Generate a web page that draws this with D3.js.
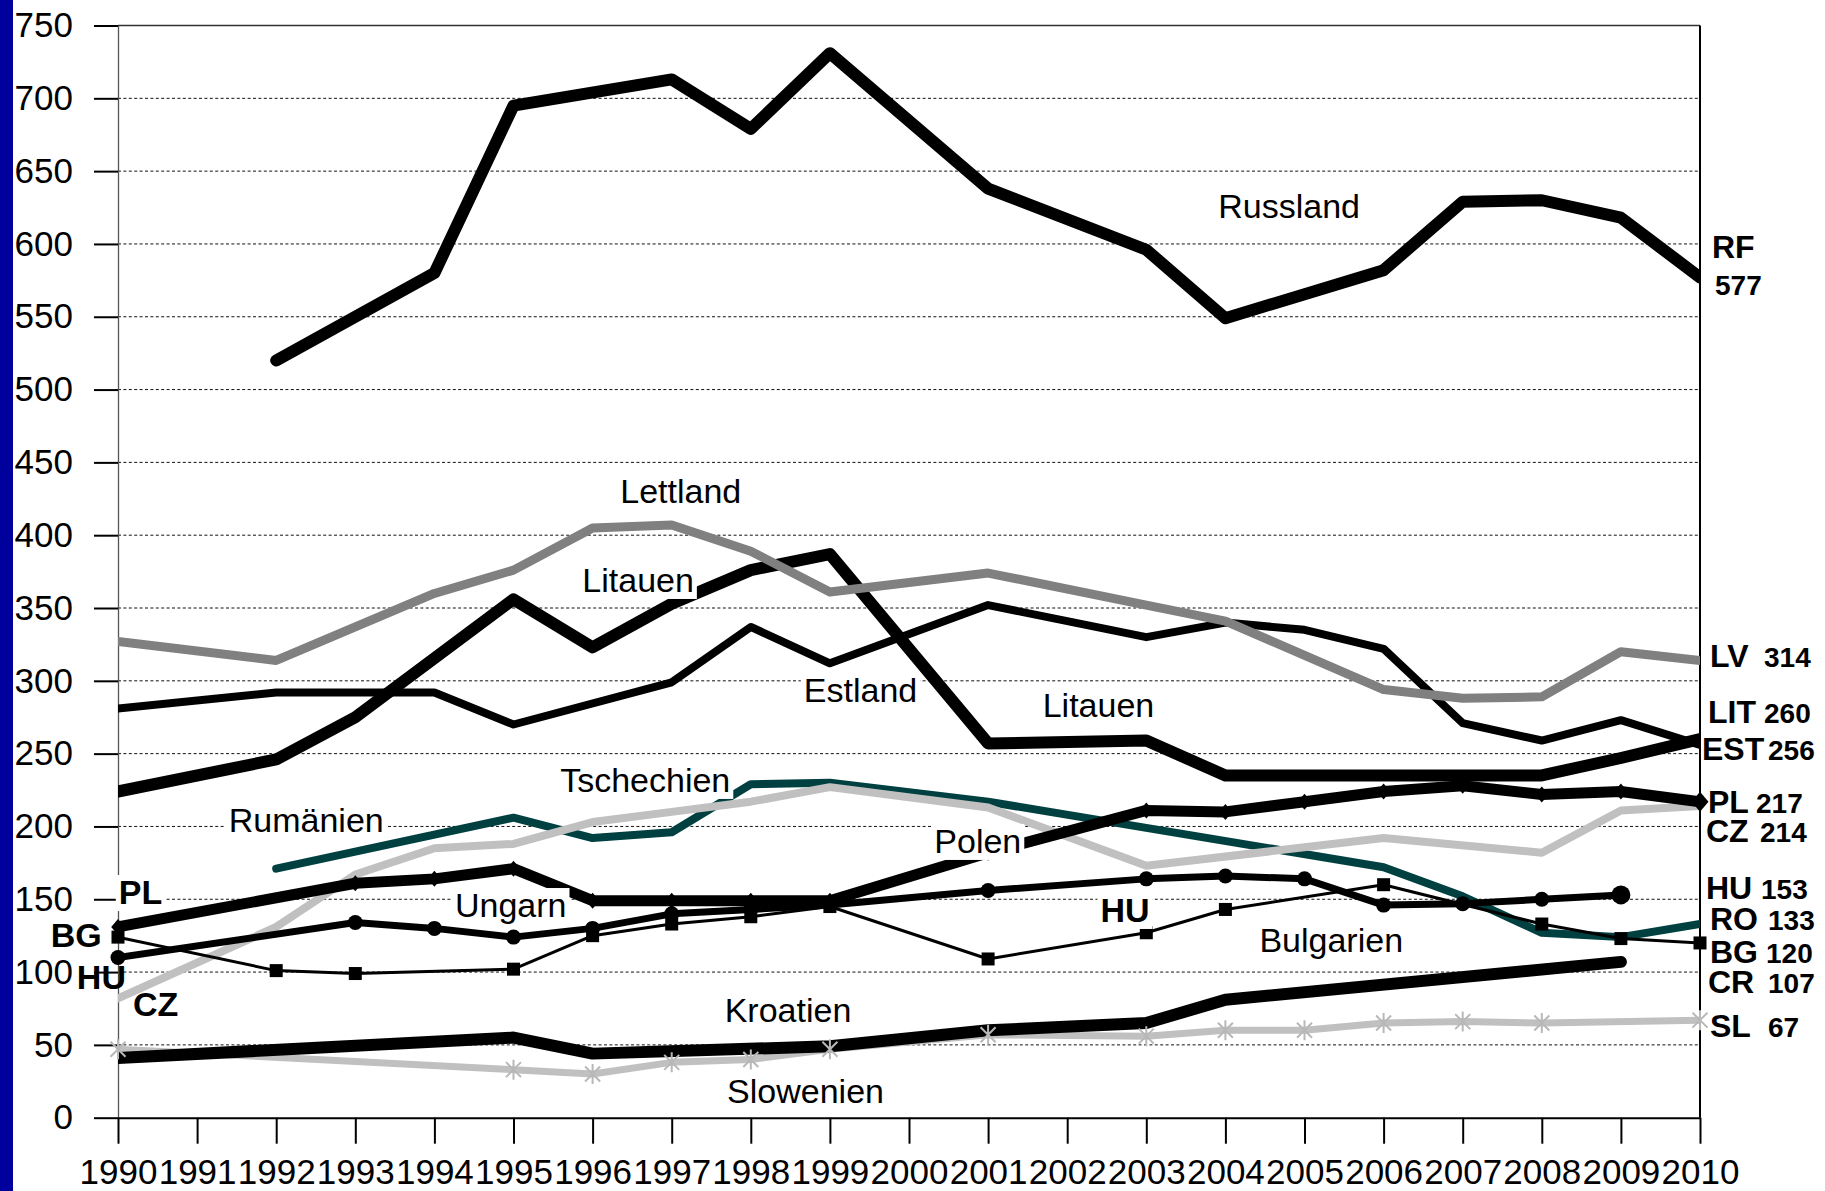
<!DOCTYPE html>
<html lang="de">
<head>
<meta charset="utf-8">
<title>Gefangenenraten 1990–2010</title>
<script src="https://cdn.jsdelivr.net/npm/d3@7/dist/d3.min.js"></script>
<style>
  html, body { margin: 0; padding: 0; background: #fff; }
  svg { display: block; }
  text { font-family: "Liberation Sans", Arial, Helvetica, sans-serif; }
</style>
</head>
<body>
<svg id="chart" width="1825" height="1191"></svg>
<script>
// ---- Achsen ----
const years  = [1990, 1991, 1992, 1993, 1994, 1995, 1996, 1997, 1998, 1999, 2000,
                2001, 2002, 2003, 2004, 2005, 2006, 2007, 2008, 2009, 2010];
const yTicks = [0, 50, 100, 150, 200, 250, 300, 350, 400, 450, 500, 550, 600, 650, 700, 750];

// ---- Werte je Land (null = kein Datenpunkt in diesem Jahr) ----
const russland   = [null, null, 520, null, 580, 695, null, 713, 679, 731, null, 638, null, 596, 549, null, 582, 629, 630, 618, 577];
const lettland   = [327, null, 314, null, 360, 376, 405, 407, 389, 361, null, 374, null, 352, 341, null, 294, 288, 289, 320, 314];
const litauen    = [224, null, 246, 275, null, 356, 323, 353, 376, 387, null, 257, null, 259, 235, null, null, null, 235, 247, 260];
const estland    = [281, null, 292, null, 292, 270, null, 299, 337, 312, null, 352, null, 330, 340, 335, 322, 271, 259, 273, 256];
const polen      = [131, null, null, 161, 164, 171, 149, 149, 149, 149, null, 182, null, 211, 210, 217, 224, 228, 222, 224, 217];
const tschechien = [82, null, 131, 167, 185, 188, 203, 210, 217, 227, null, 213, null, 173, null, null, 192, null, 182, 211, 214];
const rumaenien  = [null, null, 171, null, null, 206, 192, 196, 229, 230, null, 217, null, 199, null, null, 172, 152, 127, 124, 133];
const ungarn     = [110, null, null, 134, 130, 124, 130, 140, 143, 146, null, 156, null, 164, 166, 164, 146, 147, 150, 153, null];
const bulgarien  = [124, null, 101, 99, null, 102, 125, 133, 138, 145, null, 109, null, 127, 143, null, 160, null, 133, 123, 120];
const kroatien   = [41, null, null, null, null, 55, 44, null, null, 49, null, 60, null, 65, 81, null, null, null, null, 107, null];
const slowenien  = [47, null, null, null, null, 33, 30, 38, 40, 47, null, 57, null, 56, 60, 60, 65, 66, 65, null, 67];

// ---- Linienstile, Zeichenreihenfolge von unten nach oben ----
const series = [
  { key: "SL",  values: slowenien,  color: "#c0c0c0", width: 7,  marker: "asterisk" },
  { key: "RO",  values: rumaenien,  color: "#004040", width: 8,  marker: null },
  { key: "CZ",  values: tschechien, color: "#c0c0c0", width: 8,  marker: null },
  { key: "CR",  values: kroatien,   color: "#000000", width: 12, marker: null },
  { key: "EST", values: estland,    color: "#000000", width: 8,  marker: null },
  { key: "LIT", values: litauen,    color: "#000000", width: 12, marker: null },
  { key: "LV",  values: lettland,   color: "#808080", width: 9,  marker: null },
  { key: "RF",  values: russland,   color: "#000000", width: 12, marker: null },
  { key: "PL",  values: polen,      color: "#000000", width: 11, marker: "diamond" },
  { key: "HU",  values: ungarn,     color: "#000000", width: 7,  marker: "circle" },
  { key: "BG",  values: bulgarien,  color: "#000000", width: 3,  marker: "square" }
];

// ---- Beschriftungen im Diagramm: Anker in (Jahr, Wert) ----
const notes = [
  { text: "Russland",   at: [2003.91, 617.8], bold: false },
  { text: "Lettland",   at: [1996.35, 422.1], bold: false },
  { text: "Litauen",    at: [1995.87, 361.0], bold: false },
  { text: "Estland",    at: [1998.67, 285.5], bold: false },
  { text: "Litauen",    at: [2001.69, 275.2], bold: false },
  { text: "Tschechien", at: [1995.59, 223.7], bold: false },
  { text: "Rumänien",   at: [1991.40, 196.2], bold: false },
  { text: "Ungarn",     at: [1994.26, 137.8], bold: false },
  { text: "Polen",      at: [2000.32, 181.8], bold: false },
  { text: "HU",         at: [2002.42, 134.4], bold: true },
  { text: "Bulgarien",  at: [2004.43, 113.8], bold: false },
  { text: "Kroatien",   at: [1997.67, 65.7],  bold: false },
  { text: "Slowenien",  at: [1997.70, 10.1],  bold: false },
  { text: "PL",         at: [1990.01, 146.7], bold: true },
  { text: "BG",         at: [1989.15, 117.2], bold: true, plain: true },
  { text: "HU",         at: [1989.48, 88.4],  bold: true, plain: true },
  { text: "CZ",         at: [1990.19, 69.8],  bold: true, plain: true }
];

// ---- Endwerte rechts: Kürzel + letzter Wert der Reihe ----
const endLabels = [
  { key: "RF",  values: russland,   nameAt: 590.3, numAt: 564.9, nameDx: 12, numDx: 15 },
  { key: "LV",  values: lettland,   nameAt: 309.5, numAt: 309.5, nameDx: 10, numDx: 64 },
  { key: "LIT", values: litauen,    nameAt: 271.0, numAt: 271.0, nameDx: 8,  numDx: 64 },
  { key: "EST", values: estland,    nameAt: 245.6, numAt: 245.6, nameDx: 2,  numDx: 68 },
  { key: "PL",  values: polen,      nameAt: 209.2, numAt: 209.2, nameDx: 8,  numDx: 56 },
  { key: "CZ",  values: tschechien, nameAt: 189.3, numAt: 189.3, nameDx: 6,  numDx: 60 },
  { key: "HU",  values: ungarn,     nameAt: 150.1, numAt: 150.1, nameDx: 6,  numDx: 61 },
  { key: "RO",  values: rumaenien,  nameAt: 128.8, numAt: 128.8, nameDx: 10, numDx: 68 },
  { key: "BG",  values: bulgarien,  nameAt: 106.2, numAt: 106.2, nameDx: 10, numDx: 66 },
  { key: "CR",  values: kroatien,   nameAt: 85.6,  numAt: 85.6,  nameDx: 8,  numDx: 68 },
  { key: "SL",  values: slowenien,  nameAt: 55.4,  numAt: 55.4,  nameDx: 10, numDx: 68 }
];

// ---- Aufbau ----
const W = 1825, H = 1191;
const svg = d3.select("#chart");

svg.append("rect").attr("width", W).attr("height", H).attr("fill", "#fff");
svg.append("rect").attr("x", 0).attr("y", 0).attr("width", 13).attr("height", H).attr("fill", "#00009c");

const x = d3.scaleLinear().domain([1990, 2010]).range([118, 1700]);
const y = d3.scaleLinear().domain([0, 750]).range([1117.7, 25.5]);

// gepunktete Hilfslinien
svg.append("g")
  .selectAll("line")
  .data(yTicks.filter(v => v > 0 && v < 750))
  .join("line")
  .attr("x1", x(1990)).attr("x2", x(2010))
  .attr("y1", d => y(d)).attr("y2", d => y(d))
  .attr("stroke", "#111").attr("stroke-width", 1)
  .attr("stroke-dasharray", "3,2.4");

// Rahmen oben und rechts
svg.append("line")
  .attr("x1", x(1990)).attr("x2", x(2010))
  .attr("y1", y(750)).attr("y2", y(750))
  .attr("stroke", "#333").attr("stroke-width", 1.3);
svg.append("line")
  .attr("x1", x(2010)).attr("x2", x(2010))
  .attr("y1", y(750)).attr("y2", y(0))
  .attr("stroke", "#000").attr("stroke-width", 2);

// y-Achse
const yAxis = svg.append("g")
  .attr("transform", `translate(${x(1990)},0)`)
  .call(d3.axisLeft(y).tickValues(yTicks).tickSize(24).tickSizeOuter(0).tickPadding(21));
yAxis.select(".domain").attr("stroke", "#555").attr("stroke-width", 1.3);
yAxis.selectAll(".tick line").attr("stroke", "#000").attr("stroke-width", 2);
yAxis.selectAll(".tick text")
  .attr("font-size", 35).attr("fill", "#000")
  .attr("font-family", "'Liberation Sans', Arial, sans-serif");

// x-Achse
const xAxis = svg.append("g")
  .attr("transform", `translate(0,${y(0)})`)
  .call(d3.axisBottom(x).tickValues(years).tickFormat(d3.format("d"))
          .tickSize(26).tickSizeOuter(0).tickPadding(15));
xAxis.select(".domain").attr("stroke", "#000").attr("stroke-width", 2);
xAxis.selectAll(".tick line").attr("stroke", "#000").attr("stroke-width", 2);
xAxis.selectAll(".tick text")
  .attr("font-size", 35).attr("fill", "#000")
  .attr("font-family", "'Liberation Sans', Arial, sans-serif");

// Linien nur innerhalb der Zeichenfläche
svg.append("clipPath").attr("id", "plotClip")
  .append("rect")
  .attr("x", x(1990)).attr("y", 0)
  .attr("width", x(2010) - x(1990)).attr("height", H);

const pointsOf = vals => years
  .map((yr, i) => ({ year: yr, value: vals[i] }))
  .filter(d => d.value !== null);

const line = d3.line().x(d => x(d.year)).y(d => y(d.value));

const linesG = svg.append("g").attr("clip-path", "url(#plotClip)");
series.forEach(s => {
  linesG.append("path")
    .datum(pointsOf(s.values))
    .attr("d", line)
    .attr("fill", "none")
    .attr("stroke", s.color)
    .attr("stroke-width", s.width)
    .attr("stroke-linejoin", "round")
    .attr("stroke-linecap", "round");
});

// Markierungen
const markersG = svg.append("g");
series.filter(s => s.marker).forEach(s => {
  const pts = pointsOf(s.values);
  const last = pts[pts.length - 1];
  const g = markersG.append("g");
  pts.forEach(d => {
    const isLast = d === last;
    const t = `translate(${x(d.year)},${y(d.value)})`;
    if (s.marker === "circle") {
      g.append("circle").attr("transform", t).attr("r", isLast ? 9.5 : 7.5).attr("fill", s.color);
    } else if (s.marker === "square") {
      g.append("rect").attr("transform", t).attr("x", -6.5).attr("y", -6.5)
        .attr("width", 13).attr("height", 13).attr("fill", s.color);
    } else if (s.marker === "diamond") {
      const r = isLast ? 10 : 8;
      g.append("path").attr("transform", t)
        .attr("d", `M0,${-r}L${r * 0.85},0L0,${r}L${-r * 0.85},0Z`).attr("fill", s.color);
    } else if (s.marker === "asterisk") {
      g.append("path").attr("transform", t)
        .attr("d", "M0,-10V10M-7.5,-7.5L7.5,7.5M-7.5,7.5L7.5,-7.5")
        .attr("stroke", "#b8b8b8").attr("stroke-width", 2).attr("fill", "none");
    }
  });
});

// Beschriftungen mit weißem Hintergrund
const notesG = svg.append("g");
notes.forEach(n => {
  const g = notesG.append("g");
  const txt = g.append("text")
    .attr("x", x(n.at[0])).attr("y", y(n.at[1]))
    .attr("font-size", 34)
    .attr("font-weight", n.bold ? "bold" : "normal")
    .attr("fill", "#000")
    .text(n.text);
  if (!n.plain) {
    const b = txt.node().getBBox();
    g.insert("rect", "text")
      .attr("x", b.x - 3).attr("y", b.y + 2)
      .attr("width", b.width + 6).attr("height", b.height - 2)
      .attr("fill", "#fff");
  }
});

// Endwerte rechts der Achse
const endG = svg.append("g");
endLabels.forEach(e => {
  const vals = e.values.filter(v => v !== null);
  const lastVal = vals[vals.length - 1];
  endG.append("text")
    .attr("x", x(2010) + e.nameDx).attr("y", y(e.nameAt))
    .attr("font-size", 32).attr("font-weight", "bold").attr("fill", "#000")
    .text(e.key);
  endG.append("text")
    .attr("x", x(2010) + e.numDx).attr("y", y(e.numAt))
    .attr("font-size", 28).attr("font-weight", "bold").attr("fill", "#000")
    .text(lastVal);
});
</script>
</body>
</html>
